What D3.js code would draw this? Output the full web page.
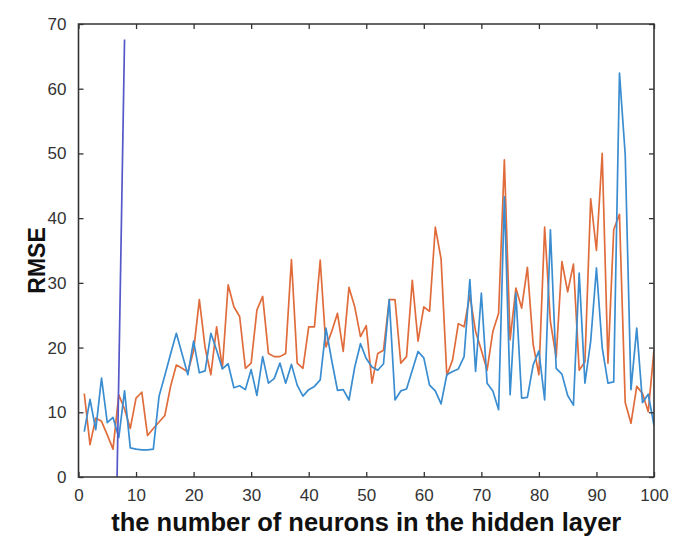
<!DOCTYPE html>
<html>
<head>
<meta charset="utf-8">
<script src="https://cdn.jsdelivr.net/npm/d3@7/dist/d3.min.js"></script>
<style>
  html, body { margin: 0; padding: 0; background: #fff; }
  svg { display: block; }
</style>
</head>
<body>
<div id="chart"></div>
<script>
// Hidden-layer sizes 1..100
const neurons = d3.range(1, 101);

// RMSE of the first network (orange trace)
const rmseOrange = [
  12.9, 5.0, 9.1, 8.6, 6.5, 4.3, 12.7, 10.5, 7.5, 12.2,
  13.1, 6.4, 7.5, 8.5, 9.5, 14.0, 17.3, 16.8, 16.2, 19.5,
  27.4, 20.0, 15.8, 23.2, 16.8, 29.7, 26.3, 24.8, 16.8, 17.6,
  25.8, 27.9, 19.1, 18.6, 18.6, 19.1, 33.6, 17.6, 16.8, 23.2,
  23.2, 33.5, 20.1, 22.5, 25.3, 19.4, 29.3, 26.3, 21.7, 23.4,
  14.5, 19.1, 19.6, 27.4, 27.4, 17.6, 18.6, 30.4, 21.0, 26.3,
  25.6, 38.6, 33.7, 15.7, 18.1, 23.7, 23.2, 28.1, 22.5, 19.6,
  16.5, 22.5, 25.3, 49.0, 21.2, 29.2, 26.1, 32.4, 20.5, 15.8,
  38.6, 24.0, 18.5, 33.3, 28.6, 32.9, 16.5, 17.8, 43.0, 35.0,
  50.0, 17.6, 38.2, 40.6, 11.5, 8.3, 14.0, 12.9, 10.1, 19.6
];

// RMSE of the second network (blue trace)
const rmseBlue = [
  7.0, 12.0, 7.3, 15.3, 8.4, 9.2, 6.1, 13.3, 4.5, 4.3,
  4.2, 4.2, 4.3, 12.5, 15.7, 19.0, 22.2, 19.0, 15.8, 21.0,
  16.1, 16.4, 22.2, 19.6, 16.7, 17.5, 13.8, 14.1, 13.5, 16.6,
  12.6, 18.6, 14.5, 15.2, 17.6, 14.5, 17.4, 14.2, 12.5, 13.5,
  14.0, 15.0, 23.0, 18.0, 13.4, 13.5, 11.9, 17.0, 20.6, 18.3,
  17.0, 16.5, 17.5, 27.4, 11.9, 13.3, 13.6, 16.5, 19.4, 18.4,
  14.2, 13.3, 11.3, 15.8, 16.3, 16.7, 18.6, 30.5, 16.3, 28.4,
  14.5, 13.3, 10.4, 43.3, 12.7, 28.4, 12.2, 12.3, 17.3, 19.5,
  11.9, 38.2, 16.8, 15.9, 12.6, 11.1, 31.5, 14.5, 21.0, 32.3,
  20.0, 14.5, 14.7, 62.4, 49.8, 13.5, 23.0, 11.5, 12.8, 8.0
];

// Steep marker line
const markerX = [6.7, 8.0];
const markerY = [0, 67.6];

const xTicks = [0, 10, 20, 30, 40, 50, 60, 70, 80, 90, 100];
const yTicks = [0, 10, 20, 30, 40, 50, 60, 70];

const W = 682, H = 537;
const margin = { left: 78.5, right: 28, top: 24, bottom: 60 };

const svg = d3.select("#chart").append("svg")
  .attr("width", W).attr("height", H);

const x = d3.scaleLinear().domain([0, 100]).range([margin.left, W - margin.right]);
const y = d3.scaleLinear().domain([0, 70]).range([H - margin.bottom, margin.top]);

svg.append("clipPath").attr("id", "plot-clip")
  .append("rect")
  .attr("x", x(0)).attr("y", y(70))
  .attr("width", x(100) - x(0)).attr("height", y(0) - y(70));

const plot = svg.append("g").attr("clip-path", "url(#plot-clip)");

const line = d3.line()
  .x((d, i) => x(neurons[i]))
  .y(d => y(d));

plot.append("path")
  .datum(rmseOrange)
  .attr("fill", "none")
  .attr("stroke", "#e06c3c")
  .attr("stroke-width", 1.7)
  .attr("stroke-linejoin", "round")
  .attr("d", line);

plot.append("path")
  .datum(rmseBlue)
  .attr("fill", "none")
  .attr("stroke", "#3a8dd0")
  .attr("stroke-width", 1.7)
  .attr("stroke-linejoin", "round")
  .attr("d", line);

plot.append("path")
  .datum(markerY)
  .attr("fill", "none")
  .attr("stroke", "#5558c8")
  .attr("stroke-width", 1.7)
  .attr("d", d3.line().x((d, i) => x(markerX[i])).y(d => y(d)));

// Axes: ticks pointing inward on all four sides
const tickFont = "'Liberation Sans', Arial, sans-serif";
const axisColor = "#333";

const axisBottomG = svg.append("g")
  .attr("transform", `translate(0,${y(0)})`)
  .call(d3.axisBottom(x).tickValues(xTicks).tickSizeInner(-5).tickSizeOuter(0).tickPadding(12));
const axisTopG = svg.append("g")
  .attr("transform", `translate(0,${y(70)})`)
  .call(d3.axisTop(x).tickValues(xTicks).tickSizeInner(-5).tickSizeOuter(0).tickFormat(""));
const axisLeftG = svg.append("g")
  .attr("transform", `translate(${x(0)},0)`)
  .call(d3.axisLeft(y).tickValues(yTicks).tickSizeInner(-5).tickSizeOuter(0).tickPadding(12));
const axisRightG = svg.append("g")
  .attr("transform", `translate(${x(100)},0)`)
  .call(d3.axisRight(y).tickValues(yTicks).tickSizeInner(-5).tickSizeOuter(0).tickFormat(""));

[axisBottomG, axisTopG, axisLeftG, axisRightG].forEach(g => {
  g.select(".domain").remove();
  g.selectAll(".tick line")
    .attr("stroke", axisColor)
    .attr("stroke-width", 1.3);
  g.selectAll(".tick text")
    .style("fill", "#333")
    .style("font-family", tickFont)
    .style("font-size", "17px");
});

// Box outline around the plotting area
const x0 = x(0), x1 = x(100), y0 = y(0), y1 = y(70);
svg.append("path")
  .attr("class", "frame")
  .attr("d", `M${x0},${y1}L${x1},${y1}L${x1},${y0}L${x0},${y0}Z`)
  .attr("fill", "none")
  .attr("stroke", axisColor)
  .attr("stroke-width", 1.6);

svg.append("text")
  .attr("x", (x(0) + x(100)) / 2)
  .attr("y", 531)
  .attr("text-anchor", "middle")
  .style("font-family", "'Liberation Sans', Arial, sans-serif")
  .style("font-weight", "bold")
  .style("font-size", "25.5px")
  .style("fill", "#111")
  .text("the number of neurons in the hidden layer");

svg.append("text")
  .attr("transform", `translate(45,${(y(0) + y(70)) / 2 + 10}) rotate(-90)`)
  .attr("text-anchor", "middle")
  .style("font-family", "'Liberation Sans', Arial, sans-serif")
  .style("font-weight", "bold")
  .style("font-size", "23px")
  .style("fill", "#111")
  .text("RMSE");
</script>
</body>
</html>
